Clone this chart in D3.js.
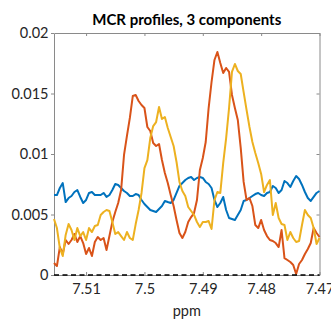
<!DOCTYPE html>
<html><head><meta charset="utf-8">
<script src="https://cdn.jsdelivr.net/npm/d3@7"></script>
<style>html,body{margin:0;padding:0;background:#fff;}svg{display:block;}</style>
</head><body>
<svg id="c" width="331" height="323"></svg>
<script>
const ppm = [7.5155,7.5150,7.5145,7.5140,7.5135,7.5130,7.5125,7.5120,7.5115,7.5110,
7.5105,7.5100,7.5095,7.5090,7.5085,7.5080,7.5075,7.5070,7.5065,7.5060,
7.5055,7.5050,7.5045,7.5040,7.5035,7.5030,7.5025,7.5020,7.5015,7.5010,
7.5005,7.5000,7.4995,7.4990,7.4985,7.4980,7.4975,7.4970,7.4965,7.4960,
7.4955,7.4950,7.4945,7.4940,7.4935,7.4930,7.4925,7.4920,7.4915,7.4910,
7.4905,7.4900,7.4895,7.4890,7.4885,7.4880,7.4875,7.4870,7.4865,7.4860,
7.4855,7.4850,7.4845,7.4840,7.4835,7.4830,7.4825,7.4820,7.4815,7.4810,
7.4805,7.4800,7.4795,7.4790,7.4785,7.4780,7.4775,7.4770,7.4765,7.4760,
7.4755,7.4750,7.4745,7.4740,7.4735,7.4730,7.4725,7.4720,7.4715,7.4710,
7.4705,7.4700];

const comp1 = [0.00661,0.00661,0.00719,0.00760,0.00603,0.00636,0.00653,0.00686,0.00702,0.00645,
0.00595,0.00620,0.00678,0.00686,0.00661,0.00661,0.00661,0.00678,0.00645,0.00661,
0.00702,0.00752,0.00744,0.00719,0.00694,0.00678,0.00653,0.00653,0.00669,0.00661,
0.00620,0.00587,0.00562,0.00537,0.00529,0.00521,0.00545,0.00570,0.00612,0.00603,
0.00595,0.00620,0.00678,0.00736,0.00760,0.00785,0.00802,0.00810,0.00785,0.00802,
0.00810,0.00802,0.00769,0.00752,0.00719,0.00620,0.00562,0.00595,0.00645,0.00537,
0.00471,0.00463,0.00455,0.00496,0.00537,0.00612,0.00620,0.00636,0.00653,0.00669,
0.00678,0.00661,0.00653,0.00678,0.00686,0.00736,0.00719,0.00678,0.00702,0.00777,
0.00760,0.00727,0.00777,0.00818,0.00793,0.00744,0.00686,0.00636,0.00612,0.00645,
0.00678,0.00694];

const comp2 = [0.00099,0.00074,0.00231,0.00174,0.00289,0.00256,0.00289,0.00339,0.00273,0.00322,
0.00264,0.00174,0.00223,0.00157,0.00273,0.00314,0.00289,0.00306,0.00207,0.00322,
0.00438,0.00521,0.00595,0.00702,0.00992,0.01149,0.01298,0.01479,0.01488,0.01438,
0.01405,0.01380,0.01223,0.01190,0.01091,0.01066,0.01083,0.00950,0.00843,0.00760,
0.00661,0.00570,0.00455,0.00347,0.00306,0.00355,0.00438,0.00479,0.00512,0.00620,
0.00868,0.00967,0.01099,0.01380,0.01595,0.01777,0.01843,0.01752,0.01669,0.01711,
0.01678,0.01488,0.01380,0.01281,0.01050,0.00769,0.00620,0.00636,0.00570,0.00413,
0.00388,0.00455,0.00372,0.00322,0.00289,0.00281,0.00264,0.00231,0.00372,0.00140,
0.00124,0.00107,0.00083,0.00008,0.00091,0.00124,0.00174,0.00215,0.00264,0.00388,
0.00347,0.00314];

const comp3 = [0.00463,0.00388,0.00223,0.00157,0.00331,0.00421,0.00372,0.00289,0.00388,0.00322,
0.00355,0.00289,0.00388,0.00355,0.00405,0.00413,0.00496,0.00521,0.00537,0.00529,
0.00438,0.00339,0.00355,0.00322,0.00289,0.00355,0.00306,0.00289,0.00421,0.00537,
0.00678,0.00884,0.00950,0.01132,0.01231,0.01264,0.01388,0.01289,0.01306,0.01215,
0.01140,0.01066,0.00934,0.00769,0.00694,0.00653,0.00562,0.00529,0.00496,0.00438,
0.00397,0.00438,0.00438,0.00446,0.00380,0.00620,0.00686,0.00678,0.00926,0.01132,
0.01380,0.01678,0.01744,0.01686,0.01661,0.01512,0.01364,0.01223,0.01099,0.01008,
0.00926,0.00835,0.00686,0.00744,0.00785,0.00496,0.00595,0.00471,0.00421,0.00413,
0.00289,0.00355,0.00306,0.00273,0.00281,0.00413,0.00537,0.00496,0.00471,0.00388,
0.00256,0.00306];

const xTicks = [7.51, 7.5, 7.49, 7.48, 7.47];
const xTickLabels = ["7.51", "7.5", "7.49", "7.48", "7.47"];
const yTicks = [0, 0.005, 0.01, 0.015, 0.02];
const yTickLabels = ["0", "0.005", "0.01", "0.015", "0.02"];
const seriesNames = ["Component 1", "Component 2", "Component 3"];
const title = "MCR profiles, 3 components";
const xLabel = "ppm";

const colors = ["#0072BD", "#D95319", "#EDB120"];
const L = 54, R = 319.5, T = 33, B = 275;
const FONT = "Lato, 'Open Sans', sans-serif";

const svg = d3.select("#c");
const x = d3.scaleLinear().domain([7.5155, 7.47]).range([L, R]);
const y = d3.scaleLinear().domain([0, 0.02]).range([B, T]);

// axes
const axB = svg.append("g").attr("transform", `translate(0,${B})`)
  .call(d3.axisBottom(x).tickValues(xTicks).tickFormat((d,i)=>xTickLabels[i]).tickSizeInner(-3).tickSizeOuter(0).tickPadding(9));
const axT = svg.append("g").attr("transform", `translate(0,${T})`)
  .call(d3.axisTop(x).tickValues(xTicks).tickFormat("").tickSizeInner(-3).tickSizeOuter(0));
const axL = svg.append("g").attr("transform", `translate(${L},0)`)
  .call(d3.axisLeft(y).tickValues(yTicks).tickFormat((d,i)=>yTickLabels[i]).tickSizeInner(3).tickSizeOuter(0).tickPadding(2.5));
const axR = svg.append("g").attr("transform", `translate(${R},0)`)
  .call(d3.axisRight(y).tickValues(yTicks).tickFormat("").tickSizeInner(-3).tickSizeOuter(0));
[axB, axT, axL, axR].forEach(g => {
  g.select(".domain").attr("stroke", "#8a8a8a").attr("stroke-width", 1);
  g.selectAll(".tick line").attr("stroke", "#8a8a8a");
  g.selectAll("text").attr("font-family", FONT).attr("font-size", 14.5).attr("fill", "#262626");
});

// lines
const line = d3.line().x((d,i)=>x(ppm[i])).y(d=>y(d));
[comp1, comp2, comp3].forEach((s, k) => {
  svg.append("path").datum(s).attr("d", line)
    .attr("fill", "none").attr("stroke", colors[k]).attr("stroke-width", 2)
    .attr("stroke-linejoin", "round").attr("class", "series").attr("data-name", seriesNames[k]);
});

// zero dashed line
svg.append("line").attr("x1", x(7.5155)).attr("x2", x(7.47)).attr("y1", y(0)).attr("y2", y(0))
  .attr("stroke", "#000").attr("stroke-width", 1.5).attr("stroke-dasharray", "5,3.5");

// title & labels
svg.append("text").attr("x", (L+R)/2).attr("y", 25).attr("text-anchor", "middle")
  .attr("font-family", FONT).attr("font-size", 15).attr("font-weight", "bold").attr("fill", "#000").text(title);
svg.append("text").attr("x", (L+R)/2).attr("y", 316).attr("text-anchor", "middle")
  .attr("font-family", FONT).attr("font-size", 14.5).attr("fill", "#262626").text(xLabel);
</script>
</body></html>
